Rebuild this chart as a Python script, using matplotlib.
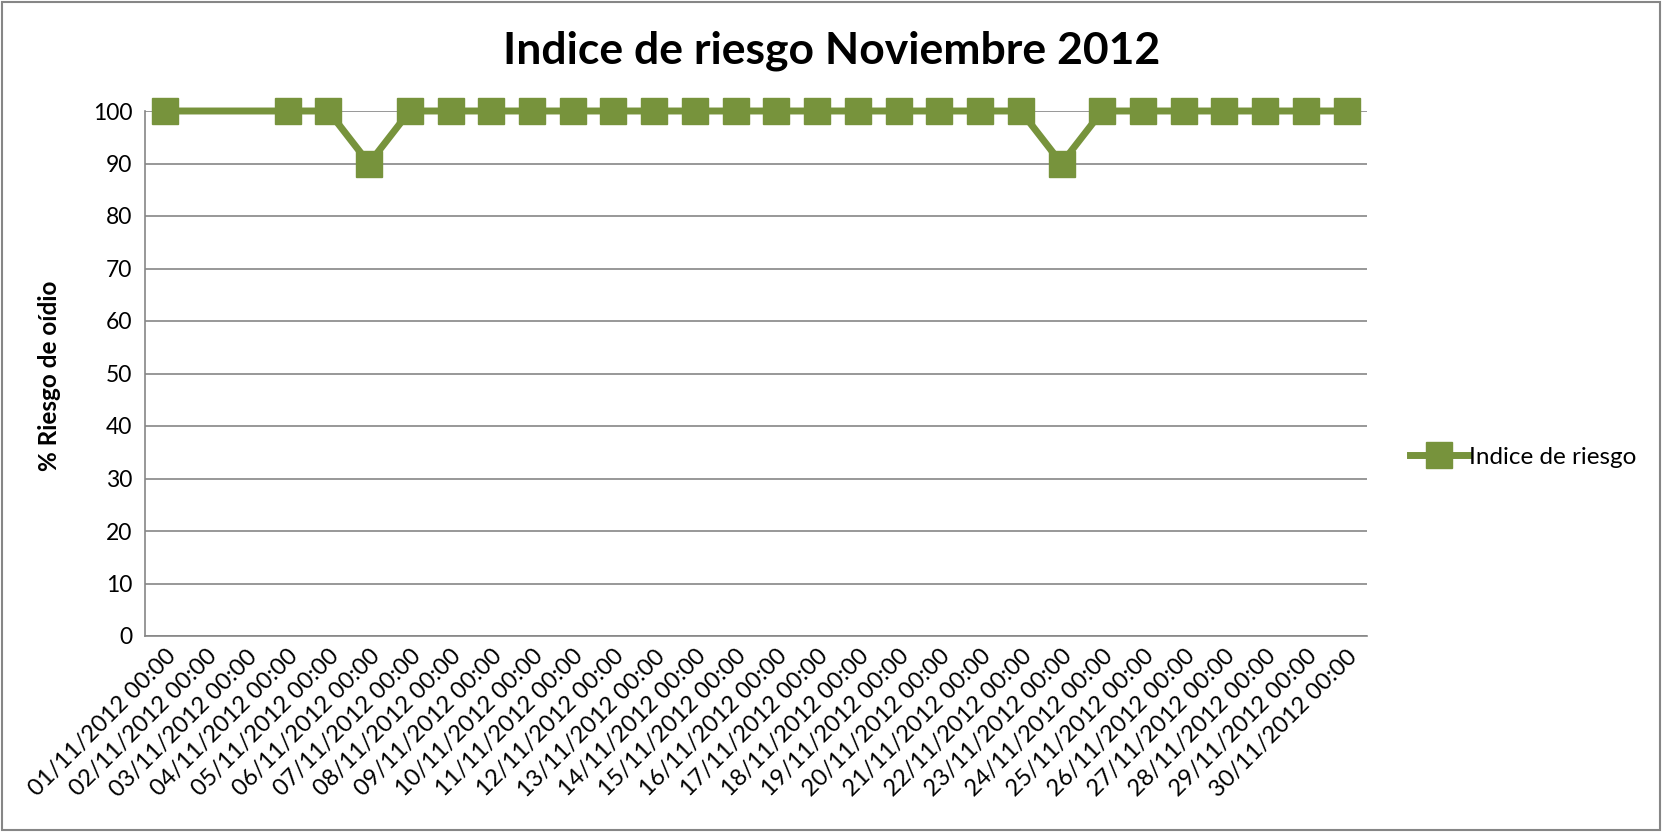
import numpy as np
import matplotlib
matplotlib.use("Agg")
import matplotlib.pyplot as plt
from matplotlib.patches import Rectangle

dates = [f"{d:02d}/11/2012 00:00" for d in range(1, 31)]
values = [100, np.nan, np.nan, 100, 100, 90, 100, 100, 100, 100,
          100, 100, 100, 100, 100, 100, 100, 100, 100, 100,
          100, 100, 90, 100, 100, 100, 100, 100, 100, 100]
title = "Indice de riesgo Noviembre 2012"
ylabel = "% Riesgo de oídio"
series_name = "Indice de riesgo"

GREEN = "#77933C"
GRID = "#868686"
FONT = ["Lato", "DejaVu Sans"]

fig = plt.figure(figsize=(16.62, 8.32), dpi=100)
ax = fig.add_axes([145/1662, 1-636/832, (1367-145)/1662, (636-111)/832])

x = np.arange(len(dates))
v = np.array(values, dtype=float)
mask = ~np.isnan(v)
ax.plot(x[mask], v[mask], color=GREEN, lw=5, marker="s", markersize=19,
        markerfacecolor=GREEN, markeredgecolor=GREEN, label=series_name,
        solid_joinstyle="miter", zorder=3, clip_on=False)

ax.set_xlim(-0.5, len(dates)-0.5)
ax.set_ylim(0, 100)
ax.set_yticks(range(0, 101, 10))
ax.set_xticks(x)
ax.set_xticklabels(dates, rotation=45, ha="right", va="top",
                   rotation_mode="anchor", fontsize=17, family=FONT)
for lab in ax.get_yticklabels():
    lab.set_family(FONT)
    lab.set_fontsize(16.5)
ax.tick_params(axis="both", length=0, pad=9)
ax.tick_params(axis="x", pad=7)
ax.yaxis.grid(True, color=GRID, lw=1.2)
ax.set_axisbelow(True)
for s in ["top", "right"]:
    ax.spines[s].set_visible(False)
for s in ["left", "bottom"]:
    ax.spines[s].set_color(GRID)
    ax.spines[s].set_linewidth(1.2)

fig.text(832/1662, 1-51/832, title, ha="center", va="center",
         fontsize=32, fontweight="bold", family=FONT)
fig.text(50/1662, 1-376/832, ylabel, ha="center", va="center",
         rotation=90, fontsize=17.5, fontweight="bold", family=FONT)

leg = fig.legend(loc="center left", bbox_to_anchor=(1400/1662, 1-457/832),
                 frameon=False, handlelength=2.4, handletextpad=0.05,
                 prop={"family": FONT, "size": 17.5}, borderaxespad=0)

fig.patches.append(Rectangle((0.0015, 0.002), 0.997, 0.996, transform=fig.transFigure,
                             fill=False, edgecolor=GRID, lw=1.5))

fig.savefig("out.png", dpi=100)
